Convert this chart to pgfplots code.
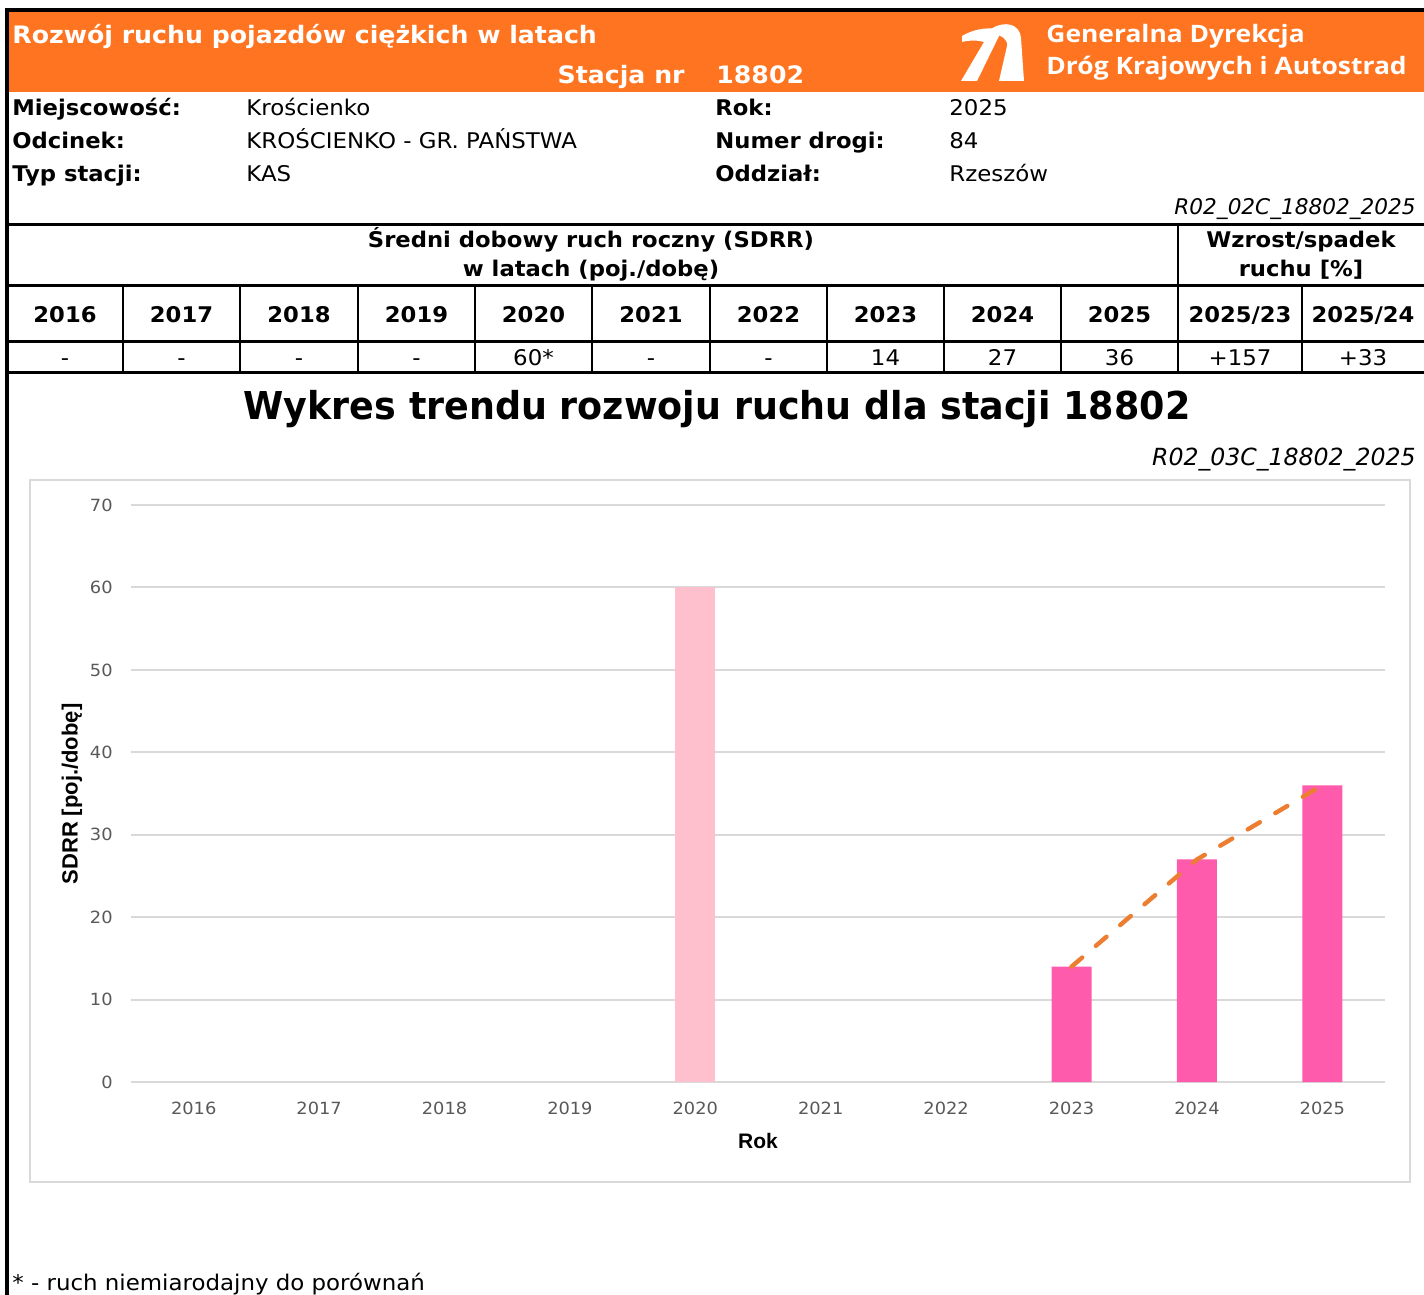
\documentclass[border=0pt]{standalone}
\usepackage{fontspec}
\setmainfont{DejaVu Sans}[FakeStretch=1.06, BoldFeatures={FakeStretch=1.05}, ItalicFeatures={FakeStretch=1.0}]
\newfontfamily\titlef{DejaVu Sans}[FakeStretch=0.95]
\newfontfamily\arialf{Liberation Sans}
\newfontfamily\opensans{Open Sans}[FakeStretch=1.1]
\usepackage{pgfplots}
\pgfplotsset{compat=1.18}
\definecolor{gdorange}{HTML}{FF7420}
\definecolor{lpink}{HTML}{FFC0CE}
\definecolor{hpink}{HTML}{FF5BAD}
\definecolor{trend}{HTML}{ED7D31}
\definecolor{gridg}{HTML}{D9D9D9}
\definecolor{tickg}{HTML}{595959}
\newcommand{\fs}[1]{\fontsize{#1bp}{#1bp}\selectfont}
\begin{document}
\begin{tikzpicture}
\begin{scope}[x=0.5bp,y=-0.5bp]
\path[use as bounding box] (0,0) rectangle (1424,1295);
\fill[white] (0,0) rectangle (1424,1295);
% header band
\fill[gdorange] (9,12) rectangle (1424,92);
\fill[black] (5,8) rectangle (1424,12);
\fill[black] (5,8) rectangle (9,1295);
\begin{scope}[every node/.style={inner sep=0pt,text=white,font=\fs{12}\bfseries}]
\node[anchor=base west] at (12,44) {Rozwój ruchu pojazdów ciężkich w latach};
\node[anchor=base east] at (685,84) {Stacja nr};
\node[anchor=base west] at (716,84) {18802};
\node[anchor=base west,font=\opensans\fs{12}\bfseries] at (1046,43) {Generalna Dyrekcja};
\node[anchor=base west,font=\opensans\fs{12}\bfseries] at (1046,75) {Dróg Krajowych i Autostrad};
\end{scope}
% logo
\fill[white] (962,36) .. controls (972,30) and (985,27) .. (997,29) -- (1000,34) -- (977,81) -- (961,81) -- (984,42) .. controls (977,40) and (970,40) .. (962,42) -- cycle;
\fill[white] (991,29) .. controls (1005,20) and (1020,24) .. (1021,38) -- (1024,81) -- (999,81) -- (1007,46) .. controls (1008,39) and (1001,35) .. (994,34) -- cycle;
% info
\begin{scope}[every node/.style={inner sep=0pt,anchor=base west,font=\fs{10.8}}]
\node[font=\fs{10.8}\bfseries] at (12,116) {Miejscowość:};
\node at (246,116) {Krościenko};
\node[font=\fs{10.8}\bfseries] at (715,116) {Rok:};
\node at (949,116) {2025};
\node[font=\fs{10.8}\bfseries] at (12,149) {Odcinek:};
\node at (246,149) {KROŚCIENKO - GR. PAŃSTWA};
\node[font=\fs{10.8}\bfseries] at (715,149) {Numer drogi:};
\node at (949,149) {84};
\node[font=\fs{10.8}\bfseries] at (12,182) {Typ stacji:};
\node at (246,182) {KAS};
\node[font=\fs{10.8}\bfseries] at (715,182) {Oddział:};
\node at (949,182) {Rzeszów};
\node[anchor=base east,font=\fs{10.8}\itshape] at (1416,215) {R02\_02C\_18802\_2025};
\end{scope}
% table
\foreach \y in {224.5,286,342,373} \draw[line width=1.5bp] (5,\y)--(1424,\y);
\draw[line width=1.3bp] (1178,224)--(1178,373);
\foreach \x in {123,240,358,475,592,710,827,944,1061,1302} \draw[line width=1.3bp] (\x,286)--(\x,373);
\begin{scope}[every node/.style={inner sep=0pt,anchor=base,font=\fs{10.8}\bfseries}]
\node at (591,248) {Średni dobowy ruch roczny (SDRR)};
\node at (591,277) {w latach (poj./dobę)};
\node at (1301,248) {Wzrost/spadek};
\node at (1301,277) {ruchu [\%]};
\foreach \x/\t in {65/2016,181.5/2017,299/2018,416.5/2019,533.5/2020,651/2021,768.5/2022,885.5/2023,1002.5/2024,1119.5/2025,1240/{2025/23},1363/{2025/24}}
  \node at (\x,323) {\t};
\foreach \x/\t in {65/-,181.5/-,299/-,416.5/-,533.5/60*,651/-,768.5/-,885.5/14,1002.5/27,1119.5/36,1240/+157,1363/+33}
  \node[font=\fs{10.8}] at (\x,366) {\t};
\end{scope}
% chart title
\node[inner sep=0pt,anchor=base,font=\titlef\fs{19.2}\bfseries] at (717,420) {Wykres trendu rozwoju ruchu dla stacji 18802};
\node[inner sep=0pt,anchor=base east,font=\fs{11.8}\itshape] at (1416,465) {R02\_03C\_18802\_2025};
\draw[gridg,line width=0.8bp] (30,480) rectangle (1410,1182);
\node[inner sep=0pt,anchor=base,font=\arialf\fs{10.5}\bfseries] at (758,1148) {Rok};
\node[inner sep=0pt,rotate=90,anchor=center,font=\arialf\fs{11}\bfseries] at (72,794) {SDRR [poj./dobę]};
\node[inner sep=0pt,anchor=base west,font=\fs{10.8}] at (12,1290) {* - ruch niemiarodajny do porównań};
\end{scope}
\begin{axis}[at={(65.5bp,-541bp)}, anchor=south west, scale only axis,
  width=627bp, height=288.5bp, xmin=-0.5, xmax=9.5, ymin=0, ymax=70,
  axis line style={draw=none}, ytick={0,10,...,70}, ymajorgrids,
  grid style={color=gridg, line width=1bp},
  xtick={0,...,9}, xticklabels={2016,2017,2018,2019,2020,2021,2022,2023,2024,2025},
  major tick length=0pt, tick style={draw=none},
  /pgf/number format/assume math mode=true,
  ticklabel style={font=\fs{8.4}, text=tickg, inner sep=0pt},
  yticklabel style={anchor=east, xshift=-9bp},
  xticklabel style={anchor=north, yshift=-10bp},
  clip=false]
\addplot[gridg, line width=1bp, forget plot] coordinates {(-0.5,0) (9.5,0)};
\addplot[ybar, bar shift=0pt, bar width=20bp, fill=lpink, draw=none] coordinates {(4,60)};
\addplot[ybar, bar shift=0pt, bar width=20bp, fill=hpink, draw=none] coordinates {(7,14) (8,27) (9,36)};
\addplot[trend, line width=2.2bp, line cap=round, dash pattern=on 7bp off 9bp, mark=none] coordinates {(7,14) (8,27) (9,36)};
\end{axis}
\end{tikzpicture}
\end{document}
